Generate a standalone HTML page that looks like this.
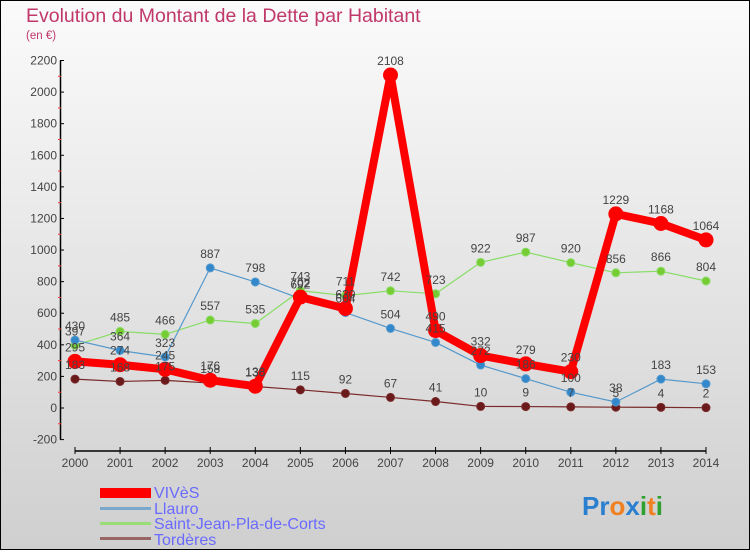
<!DOCTYPE html>
<html><head><meta charset="utf-8"><style>
html,body{margin:0;padding:0}
body{width:750px;height:550px;overflow:hidden;font-family:"Liberation Sans",sans-serif}
svg text{font-family:"Liberation Sans",sans-serif}
</style></head><body>
<svg id="chart" width="750" height="550" xmlns="http://www.w3.org/2000/svg">
<defs><linearGradient id="bg" x1="0" y1="0" x2="0" y2="1"><stop offset="0" stop-color="#fbfbfb"/><stop offset="1" stop-color="#cfcfcf"/></linearGradient></defs>
<rect x="0.5" y="0.5" width="749" height="549" fill="url(#bg)" stroke="#000"/>
<text x="26" y="22" font-size="19.5" fill="#c0386a">Evolution du Montant de la Dette par Habitant</text>
<text x="26" y="39" font-size="11.5" fill="#c0386a">(en €)</text>
<g id="axes"></g><g id="series"></g><g id="labels"></g>
<g font-size="16" fill="#6a6aff">
<rect x="100" y="488" width="51" height="10" fill="#f00"/>
<text x="154" y="498" fill="#6a6aff">VIVèS</text>
<rect x="100" y="507" width="51" height="3" fill="#7aa8cc"/>
<text x="154" y="514" fill="#6a6aff">Llauro</text>
<rect x="100" y="522" width="51" height="3" fill="#99dd77"/>
<text x="154" y="529" fill="#6a6aff">Saint-Jean-Pla-de-Corts</text>
<rect x="100" y="537" width="51" height="3" fill="#996666"/>
<text x="154" y="545" fill="#6a6aff">Tordères</text>
</g>
<text x="582" y="515" font-size="26" font-weight="bold"><tspan fill="#2a7fd0">Pr</tspan><tspan fill="#f08020">o</tspan><tspan fill="#2a7fd0">x</tspan><tspan fill="#30a030">i</tspan><tspan fill="#f08020">t</tspan><tspan fill="#30a030">i</tspan></text>
</svg>
<script>
const years=[2000,2001,2002,2003,2004,2005,2006,2007,2008,2009,2010,2011,2012,2013,2014];
const vives=[295,274,245,176,138,702,630,2108,490,332,279,230,1229,1168,1064];
const llauro=[430,364,323,887,798,692,604,504,415,272,186,100,38,183,153];
const saintJean=[397,485,466,557,535,743,711,742,723,922,987,920,856,866,804];
const torderes=[183,168,175,158,136,115,92,67,41,10,9,7,5,4,2];
const yTicks=[-200,0,200,400,600,800,1000,1200,1400,1600,1800,2000,2200];
const NS='http://www.w3.org/2000/svg';
function X(i){return 75+i*(706-75)/(years.length-1);}
function Y(v){return 408-v*(408-60.5)/2200;}
function mk(t,a,p){const e=document.createElementNS(NS,t);for(const k in a)e.setAttribute(k,a[k]);p.appendChild(e);return e;}
const ax=document.getElementById('axes');
let e=mk('line',{x1:60.5,y1:Y(2200),x2:60.5,y2:Y(-200),stroke:'#000','stroke-width':1.5},ax);


for(let v=-100;v<2200;v+=200){mk('line',{x1:58,x2:61,y1:Y(v),y2:Y(v),stroke:'#f33'},ax);}
yTicks.forEach(v=>{mk('line',{x1:60,x2:64,y1:Y(v),y2:Y(v),stroke:'#000'},ax);
 const t=mk('text',{x:57,y:Y(v)+4,'text-anchor':'end','font-size':12,fill:'#444'},ax);t.textContent=v;
 
 });
e=mk('line',{x1:75,x2:706,y1:451,y2:451,stroke:'#000','stroke-width':1.5},ax);


years.forEach((y,i)=>{mk('line',{x1:X(i),x2:X(i),y1:447,y2:454,stroke:'#000'},ax);
 const t=mk('text',{x:X(i),y:467,'text-anchor':'middle','font-size':12,fill:'#444'},ax);t.textContent=y;
 
 });
const sg=document.getElementById('series'),lg=document.getElementById('labels');
function draw(name,data,color,w,r,dot){
 const g=mk('g',{},sg);
 
 
 mk('polyline',{points:data.map((v,i)=>X(i)+','+Y(v)).join(' '),fill:'none',stroke:color,'stroke-width':w,'stroke-linejoin':'round'},g);
 data.forEach((v,i)=>{const c=mk('circle',{cx:X(i),cy:Y(v),r:r,fill:dot,stroke:color,'stroke-width':1},g);
  
  
  const t=mk('text',{x:X(i),y:Y(v)-10,'text-anchor':'middle','font-size':12,fill:'#444'},lg);t.textContent=v;
  
  });
}
draw('torderes',torderes,'#7a2a2a',1.2,4,'#6a1a1a');
draw('saint-jean',saintJean,'#88dd66',1.2,4,'#77cc33');
draw('llauro',llauro,'#5599cc',1.2,4,'#3388cc');
draw('vives',vives,'#f00',8,7,'#f00');
</script>
</body></html>
